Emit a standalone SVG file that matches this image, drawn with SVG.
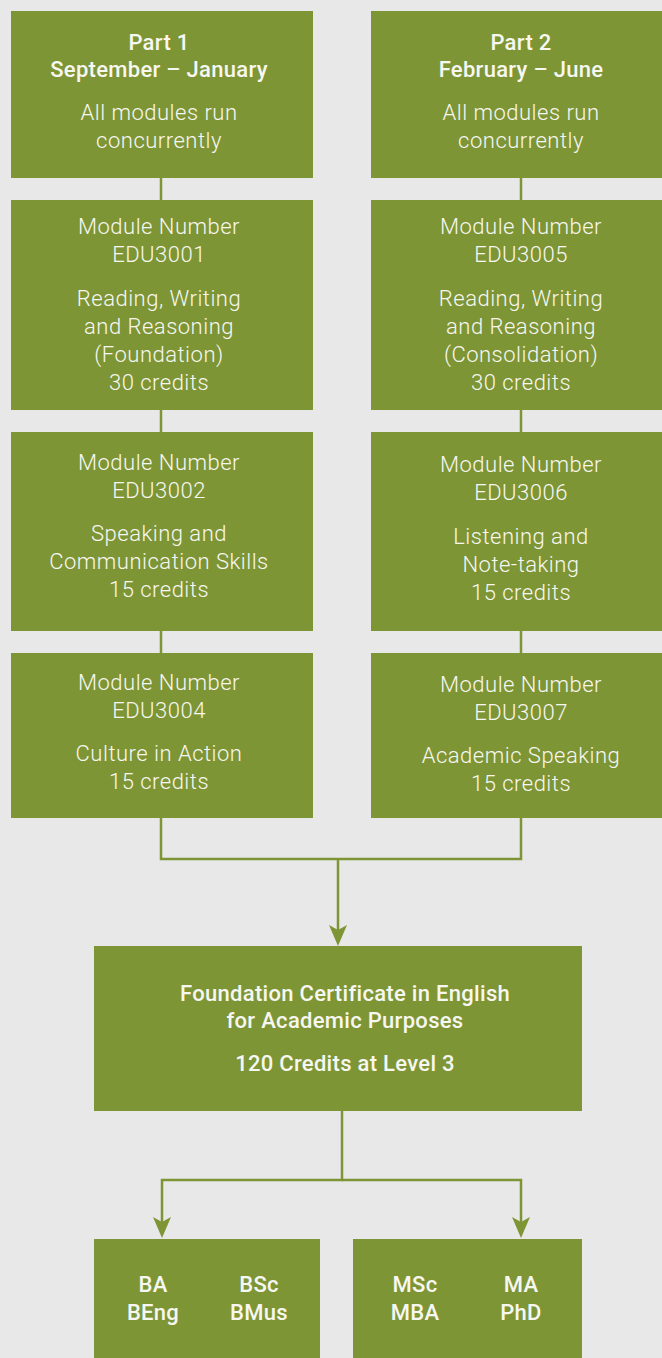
<svg xmlns="http://www.w3.org/2000/svg" width="662" height="1358" viewBox="0 0 662 1358">
<style>
.box{fill:#7e9535}
.t{font-family:Roboto,"Liberation Sans",sans-serif;font-size:22px;fill:#f7f7f2;text-anchor:middle;font-weight:300;letter-spacing:0.5px}
.b{font-weight:500;letter-spacing:0.3px}
.c{fill:none;stroke:#7e9535;stroke-width:2.5}
</style>
<defs>
<marker id="ah" viewBox="0 0 21 18" refX="15" refY="9" markerWidth="21" markerHeight="18" markerUnits="userSpaceOnUse" orient="auto">
<path d="M0,0 L21,9 L0,18 L5,9 Z" fill="#7e9535"/>
</marker>
</defs>
<rect width="662" height="1358" fill="#e8e8e8"/>
<g id="connectors">
<path class="c" d="M161,178 V859 H521 V178"/>
<path class="c" d="M338,859 V940" marker-end="url(#ah)"/>
<path class="c" d="M342,1111 V1180 H162 V1232" marker-end="url(#ah)"/>
<path class="c" d="M342,1180 H521 V1232" marker-end="url(#ah)"/>
</g>
<g id="part1">
<rect class="box" x="11" y="11" width="302" height="167"/>
<text class="t b" x="159" y="50">Part 1</text>
<text class="t b" x="159" y="77">September – January</text>
<text class="t" x="159" y="120">All modules run</text>
<text class="t" x="159" y="148">concurrently</text>
</g>
<g id="part2">
<rect class="box" x="371" y="11" width="291" height="167"/>
<text class="t b" x="521" y="50">Part 2</text>
<text class="t b" x="521" y="77">February – June</text>
<text class="t" x="521" y="120">All modules run</text>
<text class="t" x="521" y="148">concurrently</text>
</g>
<g id="edu3001">
<rect class="box" x="11" y="200" width="302" height="210"/>
<text class="t" x="159" y="234">Module Number</text>
<text class="t" x="159" y="262">EDU3001</text>
<text class="t" x="159" y="306">Reading, Writing</text>
<text class="t" x="159" y="334">and Reasoning</text>
<text class="t" x="159" y="362">(Foundation)</text>
<text class="t" x="159" y="390">30 credits</text>
</g>
<g id="edu3005">
<rect class="box" x="371" y="200" width="291" height="210"/>
<text class="t" x="521" y="234">Module Number</text>
<text class="t" x="521" y="262">EDU3005</text>
<text class="t" x="521" y="306">Reading, Writing</text>
<text class="t" x="521" y="334">and Reasoning</text>
<text class="t" x="521" y="362">(Consolidation)</text>
<text class="t" x="521" y="390">30 credits</text>
</g>
<g id="edu3002">
<rect class="box" x="11" y="432" width="302" height="199"/>
<text class="t" x="159" y="470">Module Number</text>
<text class="t" x="159" y="498">EDU3002</text>
<text class="t" x="159" y="541">Speaking and</text>
<text class="t" x="159" y="569">Communication Skills</text>
<text class="t" x="159" y="597">15 credits</text>
</g>
<g id="edu3006">
<rect class="box" x="371" y="432" width="291" height="199"/>
<text class="t" x="521" y="472">Module Number</text>
<text class="t" x="521" y="500">EDU3006</text>
<text class="t" x="521" y="544">Listening and</text>
<text class="t" x="521" y="572">Note-taking</text>
<text class="t" x="521" y="600">15 credits</text>
</g>
<g id="edu3004">
<rect class="box" x="11" y="653" width="302" height="165"/>
<text class="t" x="159" y="690">Module Number</text>
<text class="t" x="159" y="718">EDU3004</text>
<text class="t" x="159" y="761">Culture in Action</text>
<text class="t" x="159" y="789">15 credits</text>
</g>
<g id="edu3007">
<rect class="box" x="371" y="653" width="291" height="165"/>
<text class="t" x="521" y="692">Module Number</text>
<text class="t" x="521" y="720">EDU3007</text>
<text class="t" x="521" y="763">Academic Speaking</text>
<text class="t" x="521" y="791">15 credits</text>
</g>
<g id="certificate">
<rect class="box" x="94" y="946" width="488" height="165"/>
<text class="t b" x="345" y="1001">Foundation Certificate in English</text>
<text class="t b" x="345" y="1028">for Academic Purposes</text>
<text class="t b" x="345" y="1071">120 Credits at Level 3</text>
</g>
<g id="undergrad">
<rect class="box" x="94" y="1239" width="226" height="119"/>
<text class="t b" x="153" y="1292">BA</text>
<text class="t b" x="153" y="1320">BEng</text>
<text class="t b" x="259" y="1292">BSc</text>
<text class="t b" x="259" y="1320">BMus</text>
</g>
<g id="postgrad">
<rect class="box" x="353" y="1239" width="229" height="119"/>
<text class="t b" x="415" y="1292">MSc</text>
<text class="t b" x="415" y="1320">MBA</text>
<text class="t b" x="521" y="1292">MA</text>
<text class="t b" x="521" y="1320">PhD</text>
</g>
</svg>
